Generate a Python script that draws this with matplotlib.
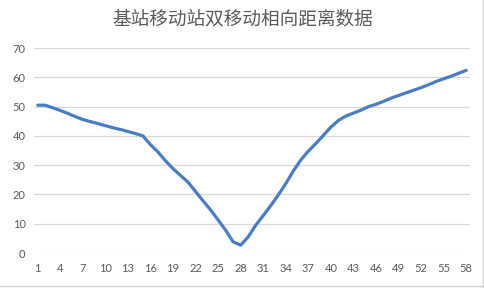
import matplotlib
matplotlib.use("Agg")
import matplotlib.pyplot as plt
from matplotlib.lines import Line2D

# distance data
categories = list(range(1, 59))
distance = [
    50.5, 50.5, 49.6, 48.7, 47.7, 46.6, 45.6, 44.9, 44.2, 43.5,
    42.8, 42.2, 41.5, 40.8, 40.0, 37.0, 34.5, 31.5, 28.8, 26.5,
    24.2, 21.0, 17.8, 14.7, 11.3, 7.8, 3.8, 2.7, 5.5, 9.5,
    12.8, 16.2, 19.8, 23.7, 28.0, 31.8, 34.8, 37.4, 40.2, 43.0,
    45.3, 46.8, 47.8, 48.8, 50.0, 50.8, 51.8, 52.9, 53.8, 54.7,
    55.6, 56.5, 57.5, 58.6, 59.5, 60.4, 61.4, 62.4,
]
yticks = [0, 10, 20, 30, 40, 50, 60, 70]
xtick_labels = categories[::3]

title = "基站移动站双移动相向距离数据"

plt.rcParams['font.family'] = ['Lato', 'Noto Sans CJK SC', 'DejaVu Sans']

fig = plt.figure(figsize=(4.85, 2.88), dpi=100)
ax = fig.add_axes([0.070, 0.1215, 0.899, 0.7115])

ax.plot(categories, distance, color='#4a7dbf', linewidth=2.3,
        solid_joinstyle='round', solid_capstyle='round')

ax.set_xlim(0.5, 58.5)
ax.set_ylim(0, 70)
ax.set_yticks(yticks)
ax.set_xticks(xtick_labels)
ax.set_xticklabels([str(c) for c in xtick_labels])

ax.grid(axis='y', color='#d9d9d9', linewidth=0.9)
ax.set_axisbelow(True)
for s in ['top', 'right', 'left', 'bottom']:
    ax.spines[s].set_visible(False)
ax.tick_params(length=0, labelsize=8, colors='#595959', pad=7)
ax.tick_params(axis='y', pad=6)

fig.text(0.5, 0.934, title, ha='center', va='center', fontsize=13.4,
         color='#595959', family=['Noto Sans CJK SC', 'DejaVu Sans'])

# chart area border (right and bottom edges, as in the screenshot)
fig.add_artist(Line2D([0.996, 0.996], [0.005, 1.0], transform=fig.transFigure,
                      color='#d0d0d0', linewidth=1.0))
fig.add_artist(Line2D([0.0, 0.996], [0.007, 0.007], transform=fig.transFigure,
                      color='#d0d0d0', linewidth=1.0))

fig.savefig("out.png", dpi=100)
